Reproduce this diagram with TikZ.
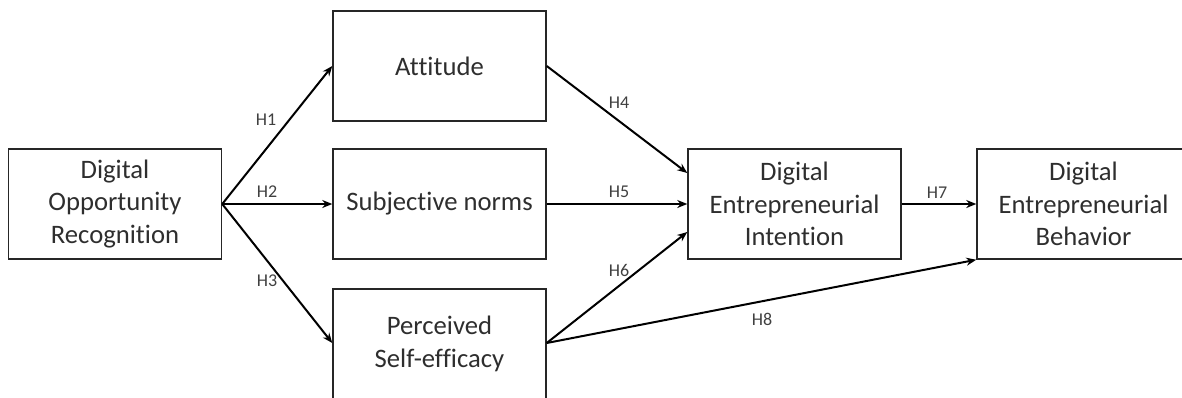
\documentclass[tikz,border=0pt]{standalone}
\usepackage{fontspec}
\setmainfont{Carlito}[Ligatures=NoCommon]
\usetikzlibrary{arrows.meta,calc}
\begin{document}
\begin{tikzpicture}[x=0.75pt,y=-0.75pt,
  box/.style={draw=black!85,line width=1.1pt,minimum width=159.75pt,minimum height=82.5pt,inner sep=0pt,align=center,text=black!82,font=\fontsize{20}{24.4}\selectfont},
  conn/.style={line width=1.5pt,-{Stealth[length=7.5pt,width=6pt]}},
  lab/.style={text=black!75,font=\fontsize{13.5}{15}\selectfont,inner sep=0pt}]
\useasboundingbox (0,0) rectangle (1182,397);
\node[box] (dor) at (115,204) {Digital\\Opportunity\\Recognition};
\node[box] (att) at (439.5,66) {Attitude};
\node[box] (sn) at (439.5,204) {Subjective norms};
\node[box] (pse) at (439.5,344) {Perceived\\Self-efficacy};
\node[box] (dei) at (794.5,204) {Digital\\Entrepreneurial\\Intention};
\node[box] (deb) at (1083.5,204) {Digital\\Entrepreneurial\\Behavior};
\draw[conn] (dor.east) -- (att.west);
\draw[conn] (dor.east) -- (sn.west);
\draw[conn] (dor.east) -- ($(pse.west)+(0,-1)$);
\draw[conn] (att.east) -- ($(dei.west)+(0,-31)$);
\draw[conn] (sn.east) -- (dei.west);
\draw[conn] ($(pse.east)+(0,-1)$) -- ($(dei.west)+(0,28)$);
\draw[conn] ($(pse.east)+(0,-1)$) -- (deb.south west);
\draw[conn] (dei.east) -- (deb.west);
\node[lab] (h1) at (266,120) {H1};
\node[lab] (h2) at (267,192) {H2};
\node[lab] (h3) at (267,281) {H3};
\node[lab] (h4) at (619,103) {H4};
\node[lab] (h5) at (619,192) {H5};
\node[lab] (h6) at (619,270) {H6};
\node[lab] (h7) at (937,193) {H7};
\node[lab] (h8) at (762,319) {H8};
\end{tikzpicture}
\end{document}
